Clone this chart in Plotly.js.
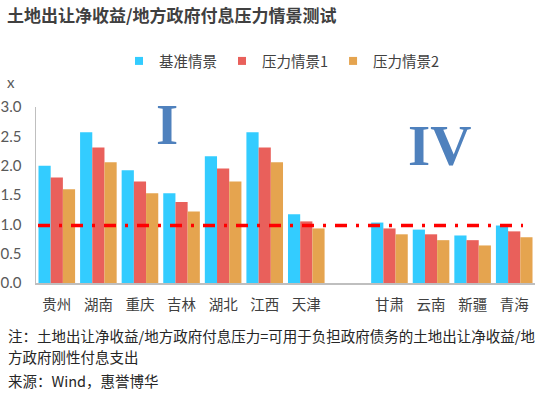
<!DOCTYPE html>
<html>
<head>
<meta charset="utf-8">
<script src="https://cdn.plot.ly/plotly-3.0.1.min.js"></script>
<style>html,body{margin:0;padding:0;background:#fff;}#chart{width:544px;height:398px;}</style>
</head>
<body>
<div id="chart"></div>
<script>
const categories = ["贵州", "湖南", "重庆", "吉林", "湖北", "江西", "天津", " ", "甘肃", "云南", "新疆", "青海"];
const baseline = [2.00, 2.57, 1.92, 1.53, 2.16, 2.57, 1.17, null, 1.03, 0.91, 0.81, 0.98];
const stress1  = [1.80, 2.31, 1.73, 1.38, 1.95, 2.31, 1.05, null, 0.93, 0.83, 0.73, 0.88];
const stress2  = [1.60, 2.06, 1.53, 1.22, 1.73, 2.06, 0.93, null, 0.83, 0.73, 0.64, 0.78];
const seriesNames = ["基准情景", "压力情景1", "压力情景2"];
const threshold = 0.98;
const yTicks = [0, 0.5, 1.0, 1.5, 2.0, 2.5, 3.0];
const yTickText = ["0.0", "0.5", "1.0", "1.5", "2.0", "2.5", "3.0"];
const noteLines = ["注：土地出让净收益/地方政府付息压力=可用于负担政府债务的土地出让净收益/地", "方政府刚性付息支出"];
const sourceText = "来源：Wind，惠誉博华";

const colors = ["#33CCFF", "#E9605B", "#E5A44F"];
const W = 544, H = 398, L = 36, R = 9, T = 107, B = 115;
const pw = W - L - R, ph = H - T - B;
const px = x => (x - L) / pw;
const py = y => (H - B - y) / ph;

const cjk = '"Noto Sans CJK SC", "Noto Sans", sans-serif';
const seriesVals = [baseline, stress1, stress2];
const traces = seriesVals.map((v, i) => ({
  type: 'bar', x: categories, y: v, name: seriesNames[i],
  marker: {color: colors[i], line: {width: 0}},
  showlegend: false, hoverinfo: 'skip'
}));
seriesNames.forEach((n, i) => traces.push({
  type: 'scatter', mode: 'markers', x: [null], y: [null], name: n,
  marker: {symbol: 'square', size: 8, color: colors[i]}, showlegend: true
}));

const noteFont = {family: cjk, size: 14.5, color: '#262626'};
const layout = {
  width: W, height: H,
  margin: {l: L, r: R, t: T, b: B, pad: 0},
  paper_bgcolor: '#fff', plot_bgcolor: '#fff',
  showlegend: true,
  title: {text: '土地出让净收益/地方政府付息压力情景测试', x: 7 / W, xref: 'container', xanchor: 'left',
          y: 1 - 16 / H, yref: 'container', yanchor: 'middle',
          font: {family: cjk, size: 17, color: '#404040', weight: 'bold'}},
  barmode: 'group', bargap: 0.12, bargroupgap: 0,
  xaxis: {type: 'category', categoryorder: 'array', categoryarray: categories,
          showline: true, linecolor: '#BFBFBF', linewidth: 1.5, ticks: '', showgrid: false,
          zeroline: false, tickfont: {family: cjk, size: 14.5, color: '#404040'},
          ticklabelstandoff: 8, fixedrange: true},
  yaxis: {range: [0, 3], tickvals: yTicks, ticktext: yTickText,
          showline: true, linecolor: '#BFBFBF', linewidth: 1.5, ticks: '', showgrid: false,
          zeroline: false, tickfont: {family: 'Lato, "Liberation Sans", sans-serif', size: 15, color: '#595959'},
          ticklabelstandoff: 10, fixedrange: true},
  legend: {orientation: 'h', x: px(119), xanchor: 'left', y: py(61), yanchor: 'middle',
           font: {family: cjk, size: 14.5, color: '#404040'}, itemwidth: 30,
           bgcolor: 'rgba(0,0,0,0)'},
  shapes: [{type: 'line', xref: 'paper', yref: 'y', x0: px(38), x1: px(523), y0: threshold, y1: threshold,
            line: {color: '#FF0000', width: 3.5, dash: '12px,9px,3px,9px'}}],
  annotations: [
    {text: 'x', xref: 'paper', yref: 'paper', x: px(11), y: py(82), xanchor: 'center', yanchor: 'middle',
     showarrow: false, font: {family: 'Lato, sans-serif', size: 15, color: '#595959'}},
    {text: 'I', xref: 'paper', yref: 'paper', x: px(167), y: py(124), xanchor: 'center', yanchor: 'middle',
     showarrow: false, font: {family: '"Liberation Serif", serif', size: 57, color: '#4F81BD', weight: 'bold'}},
    {text: 'IV', xref: 'paper', yref: 'paper', x: px(439), y: py(145), xanchor: 'center', yanchor: 'middle',
     showarrow: false, font: {family: '"Liberation Serif", serif', size: 57, color: '#4F81BD', weight: 'bold'}},
    {text: noteLines[0], xref: 'paper', yref: 'paper', x: px(6), y: py(335), xanchor: 'left', yanchor: 'middle',
     showarrow: false, font: noteFont},
    {text: noteLines[1], xref: 'paper', yref: 'paper', x: px(6), y: py(356), xanchor: 'left', yanchor: 'middle',
     showarrow: false, font: noteFont},
    {text: sourceText, xref: 'paper', yref: 'paper', x: px(6), y: py(380), xanchor: 'left', yanchor: 'middle',
     showarrow: false, font: noteFont}
  ]
};

Plotly.newPlot('chart', traces, layout, {displayModeBar: false, staticPlot: true});
</script>
</body>
</html>
